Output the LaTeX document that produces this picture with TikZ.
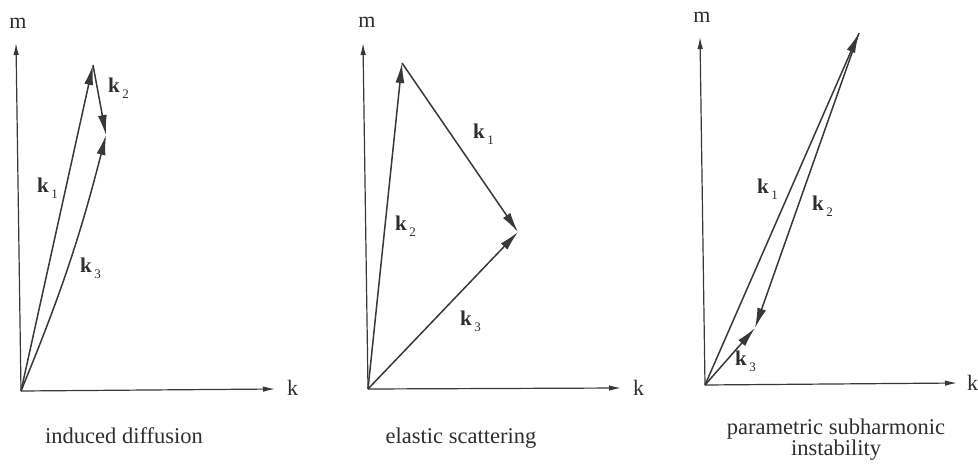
\documentclass[tikz,border=0pt]{standalone}
\usepackage{fontspec}
\setmainfont{Liberation Serif}
\usetikzlibrary{arrows.meta}
\definecolor{linec}{gray}{0.22}
\definecolor{textc}{gray}{0.18}
\newcommand\kvec[1]{\textbf{k}\kern2.5pt\raisebox{-6pt}{\fontsize{13}{13}\selectfont #1}}
\tikzset{
  vec/.style={draw=linec, line width=1.5pt, -{Latex[length=20pt,width=9pt]}},
  axisline/.style={draw=linec, line width=1.2pt, -{Latex[length=12pt,width=5.5pt]}},
  klab/.style={anchor=base west, inner sep=0pt, text=textc, font=\fontsize{21}{21}\selectfont},
  axlab/.style={anchor=base, inner sep=0pt, text=textc, font=\fontsize{22}{22}\selectfont},
  captext/.style={inner sep=0pt, text=textc, align=center, font=\fontsize{22.5}{21}\selectfont},
}
\begin{document}
\begin{tikzpicture}[x=1pt,y=-1pt]
\useasboundingbox (0,0) rectangle (978,466);
% ---------- panel 1: induced diffusion
\coordinate (O1) at (21,391);
\coordinate (M1) at (16,43);
\coordinate (K1) at (275,389);
\coordinate (A1) at (93,65);
\coordinate (B1) at (106,135);
\draw[axisline] (O1) -- (M1);
\draw[axisline] (O1) -- (K1);
\draw[vec] (O1) -- (A1);
\draw[vec] (A1) -- (B1);
\draw[vec] (O1) to[bend right=4] (B1);
\node[axlab] (m1) at (18,28) {m};
\node[axlab, anchor=base west] (k1ax) at (287,395) {k};
\node[klab] (l11) at (37,192) {\kvec{1}};
\node[klab] (l12) at (108,92) {\kvec{2}};
\node[klab] (l13) at (80,272) {\kvec{3}};
\node[captext, anchor=base] (c1) at (124,443) {induced diffusion};
% ---------- panel 2: elastic scattering
\coordinate (O2) at (368,389);
\coordinate (M2) at (363,43);
\coordinate (K2) at (621,388);
\coordinate (A2) at (402,63);
\coordinate (B2) at (518,232);
\draw[axisline] (O2) -- (M2);
\draw[axisline] (O2) -- (K2);
\draw[vec] (O2) -- (A2);
\draw[vec] (A2) -- (B2);
\draw[vec] (O2) -- (B2);
\node[axlab] (m2) at (367,27) {m};
\node[axlab, anchor=base west] (k2ax) at (633,395) {k};
\node[klab] (l21) at (473,138) {\kvec{1}};
\node[klab] (l22) at (395,230) {\kvec{2}};
\node[klab] (l23) at (460,325) {\kvec{3}};
\node[captext, anchor=base] (c2) at (461,443) {elastic scattering};
% ---------- panel 3: parametric subharmonic instability
\coordinate (O3) at (705,385);
\coordinate (M3) at (700,37);
\coordinate (K3) at (957,383);
\coordinate (A3) at (859,33);
\coordinate (B3) at (755,328);
\draw[axisline] (O3) -- (M3);
\draw[axisline] (O3) -- (K3);
\draw[vec] (O3) -- (A3);
\draw[vec] (A3) -- (B3);
\draw[vec] (O3) -- (B3);
\node[axlab] (m3) at (702,22) {m};
\node[axlab, anchor=base west] (k3ax) at (967,390) {k};
\node[klab] (l31) at (757,193) {\kvec{1}};
\node[klab] (l32) at (812,210) {\kvec{2}};
\node[klab] (l33) at (735,365) {\kvec{3}};
\node[captext, anchor=north] (c3) at (836,418.5) {parametric subharmonic\\instability};
\end{tikzpicture}
\end{document}
